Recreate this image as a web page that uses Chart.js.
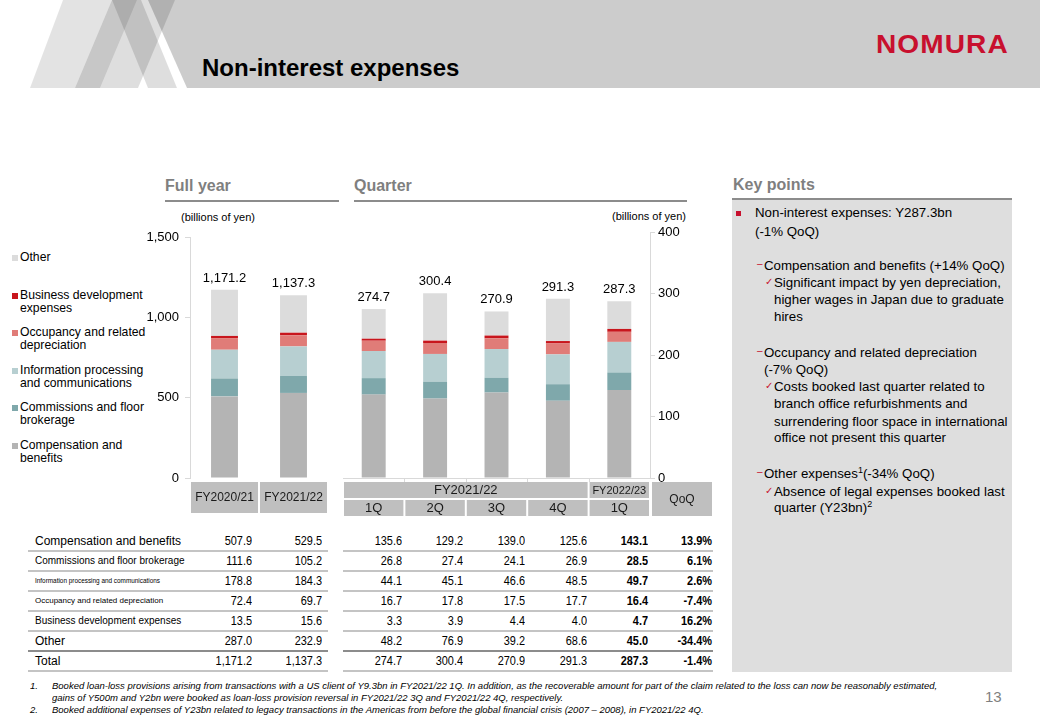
<!DOCTYPE html>
<html><head><meta charset="utf-8">
<script src="https://cdn.jsdelivr.net/npm/chart.js@4.4.0/dist/chart.umd.min.js"></script>
<style>
body{margin:0;width:1040px;height:720px;position:relative;overflow:hidden;background:#fff;font-family:"Liberation Sans",Arial,sans-serif;color:#000}
.a{position:absolute;white-space:nowrap}
.sec{font-weight:bold;font-size:16px;line-height:20px;color:#7f7f7f}
.ul{height:2px;background:#8c8c8c}
.kp{font-size:13.3px;line-height:18px}
.dash{color:#c8102e;font-size:10px}
.chk{color:#c8102e;font-size:10px;font-family:"DejaVu Sans",sans-serif}
.fn{font-style:italic;font-size:9.6px;line-height:11px;color:#000;transform:scaleX(0.99);transform-origin:left center}
.lg{font-size:12.2px;line-height:13.5px}
.sq{width:6px;height:6px}
.tv{font-size:13px;line-height:16px;text-align:right;transform:scaleX(0.84);transform-origin:right center}
</style></head><body>

<svg class="a" style="left:0;top:0" width="1040" height="89">
 <polygon points="30,88 63,0 112,0 75,88" fill="#000" fill-opacity="0.11"/>
 <polygon points="75,88 112,0 137,0 100,88" fill="#000" fill-opacity="0.22"/>
 <polygon points="100,88 137,0 175,0 138,88" fill="#000" fill-opacity="0.13"/>
 <polygon points="112,0 141,0 177,88 148,88" fill="#000" fill-opacity="0.13"/>
 <polygon points="148,0 1040,0 1040,88 187,88" fill="#000" fill-opacity="0.2"/>
</svg>
<div class="a" style="left:202px;top:54px;font-weight:bold;font-size:24px;line-height:28px">Non-interest expenses</div>
<div class="a" style="left:876px;top:29px;font-weight:bold;font-size:26px;line-height:30px;color:#c8102e;letter-spacing:1px;transform:scaleX(1.08);transform-origin:left">NOMURA</div>

<div class="a sec" style="left:165px;top:176px">Full year</div>
<div class="a ul" style="left:165px;top:200px;width:174px"></div>
<div class="a sec" style="left:354px;top:176px">Quarter</div>
<div class="a ul" style="left:354px;top:200px;width:333px"></div>
<div class="a sec" style="left:733px;top:175px">Key points</div>
<div class="a ul" style="left:732px;top:198px;width:280px"></div>
<div class="a" style="left:732px;top:200px;width:280px;height:472px;background:#dedede"></div>

<div class="a" style="left:181px;top:210px;font-size:11px;line-height:14px">(billions of yen)</div>
<div class="a" style="left:612px;top:209px;font-size:11px;line-height:14px">(billions of yen)</div>

<div id="legend"></div>

<canvas id="fy" class="a" style="left:130px;top:215px" width="205" height="305"></canvas>
<canvas id="qt" class="a" style="left:340px;top:215px" width="375" height="305"></canvas>

<div id="table"></div>

<div class="a" style="left:736px;top:211px;width:5px;height:5px;background:#c8102e"></div>
<div class="a kp" style="left:755px;top:204px">Non-interest expenses: Y287.3bn</div>
<div class="a kp" style="left:755px;top:223px">(-1% QoQ)</div>
<div class="a dash" style="left:757px;top:258px">–</div>
<div class="a kp" style="left:764px;top:257px">Compensation and benefits (+14% QoQ)</div>
<div class="a chk" style="left:765px;top:276px">✓</div>
<div class="a kp" style="left:774px;top:274px">Significant impact by yen depreciation,</div>
<div class="a kp" style="left:774px;top:291px">higher wages in Japan due to graduate</div>
<div class="a kp" style="left:774px;top:308px">hires</div>
<div class="a dash" style="left:757px;top:345px">–</div>
<div class="a kp" style="left:764px;top:344px">Occupancy and related depreciation</div>
<div class="a kp" style="left:764px;top:361px">(-7% QoQ)</div>
<div class="a chk" style="left:765px;top:380px">✓</div>
<div class="a kp" style="left:774px;top:378px">Costs booked last quarter related to</div>
<div class="a kp" style="left:774px;top:395px">branch office refurbishments and</div>
<div class="a kp" style="left:774px;top:413px">surrendering floor space in international</div>
<div class="a kp" style="left:774px;top:429px">office not present this quarter</div>
<div class="a dash" style="left:757px;top:466px">–</div>
<div class="a kp" style="left:764px;top:465px">Other expenses<sup style="font-size:9px;line-height:0">1</sup>(-34% QoQ)</div>
<div class="a chk" style="left:765px;top:485px">✓</div>
<div class="a kp" style="left:774px;top:483px">Absence of legal expenses booked last</div>
<div class="a kp" style="left:774px;top:499px">quarter (Y23bn)<sup style="font-size:9px;line-height:0">2</sup></div>

<div class="a fn" style="left:30px;top:680px">1.</div>
<div class="a fn" style="left:52px;top:680px">Booked loan-loss provisions arising from transactions with a US client of Y9.3bn in FY2021/22 1Q. In addition, as the recoverable amount for part of the claim related to the loss can now be reasonably estimated,</div>
<div class="a fn" style="left:52px;top:692px">gains of Y500m and Y2bn were booked as loan-loss provision reversal in FY2021/22 3Q and FY2021/22 4Q, respectively.</div>
<div class="a fn" style="left:30px;top:704px">2.</div>
<div class="a fn" style="left:52px;top:704px">Booked additional expenses of Y23bn related to legacy transactions in the Americas from before the global financial crisis (2007 – 2008), in FY2021/22 4Q.</div>
<div class="a" style="left:985px;top:688px;font-size:15px;line-height:18px;color:#7f7f7f">13</div>

<script>
// ---------- data ----------
const fyLabels = ['FY2020/21', 'FY2021/22'];
const qLabels = ['1Q', '2Q', '3Q', '4Q', '1Q'];
const qGroups = [{label: 'FY2021/22', from: 0, to: 3}, {label: 'FY2022/23', from: 4, to: 4}];
const seriesNames = ['Compensation and benefits', 'Commissions and floor brokerage', 'Information processing and communications', 'Occupancy and related depreciation', 'Business development expenses', 'Other'];
const legendLabels = ['Compensation and<br>benefits', 'Commissions and floor<br>brokerage', 'Information processing<br>and communications', 'Occupancy and related<br>depreciation', 'Business development<br>expenses', 'Other'];
const seriesColors = ['#b4b4b4', '#7fa8ab', '#b7cfd1', '#e07c78', '#c8161d', '#dcdcdc'];

const fyComp  = [507.9, 529.5];
const fyComm  = [111.6, 105.2];
const fyInfo  = [178.8, 184.3];
const fyOcc   = [72.4, 69.7];
const fyBiz   = [13.5, 15.6];
const fyOther = [287.0, 232.9];
const fyTotal = [1171.2, 1137.3];

const qComp  = [135.6, 129.2, 139.0, 125.6, 143.1];
const qComm  = [26.8, 27.4, 24.1, 26.9, 28.5];
const qInfo  = [44.1, 45.1, 46.6, 48.5, 49.7];
const qOcc   = [16.7, 17.8, 17.5, 17.7, 16.4];
const qBiz   = [3.3, 3.9, 4.4, 4.0, 4.7];
const qOther = [48.2, 76.9, 39.2, 68.6, 45.0];
const qTotal = [274.7, 300.4, 270.9, 291.3, 287.3];

const qoq = ['13.9%', '6.1%', '2.6%', '-7.4%', '16.2%', '-34.4%', '-1.4%'];

const fyTicks = [0, 500, 1000, 1500];
const qTicks = [0, 100, 200, 300, 400];

const fySeries = [fyComp, fyComm, fyInfo, fyOcc, fyBiz, fyOther];
const qSeries = [qComp, qComm, qInfo, qOcc, qBiz, qOther];

// ---------- helpers ----------
const fmt = v => v.toLocaleString('en-US', {minimumFractionDigits: 1, maximumFractionDigits: 1});
const FONT = '"Liberation Sans", Arial, sans-serif';

// legend
(function () {
  const tops = [438.5, 400.5, 363.5, 325.5, 288.5, 250.5];
  let h = '';
  for (let i = seriesNames.length - 1; i >= 0; i--) {
    h += `<div class="a sq" style="left:12px;top:${tops[i] + 4}px;background:${seriesColors[i]}"></div>`;
    h += `<div class="a lg" style="left:20px;top:${tops[i]}px">${legendLabels[i]}</div>`;
  }
  document.getElementById('legend').innerHTML = h;
})();

// table
(function () {
  const rowC = [541, 561, 581, 601, 621, 641, 661];
  const labelSize = [12, 10, 6.4, 8, 10, 12, 12];
  const colR = [252, 322, 402, 463, 525, 587, 648, 712];
  let h = '';
  const rows = seriesNames.map((n, i) => ({name: n, fy: fySeries[i], q: qSeries[i], qq: qoq[i]}));
  rows.push({name: 'Total', fy: fyTotal, q: qTotal, qq: qoq[6]});
  rows.forEach((r, i) => {
    const c = rowC[i];
    h += `<div class="a" style="left:35px;top:${c - 8}px;font-size:${labelSize[i]}px;line-height:16px">${r.name}</div>`;
    const vals = [...r.fy, ...r.q].map(fmt).concat([r.qq]);
    vals.forEach((v, j) => {
      const bold = j >= 6 ? 'font-weight:bold;' : '';
      h += `<div class="a tv" style="left:${colR[j] - 60}px;width:60px;top:${c - 8}px;${bold}">${v}</div>`;
    });
    const lc = i === 5 ? '#8c8c8c' : '#c4c4c4';
    h += `<div class="a" style="left:28px;top:${c + 9}px;width:300px;height:2px;background:${lc}"></div>`;
    h += `<div class="a" style="left:343px;top:${c + 9}px;width:370px;height:2px;background:${lc}"></div>`;
  });
  document.getElementById('table').innerHTML = h;
})();

// ---------- plugins ----------
const totalsPlugin = {
  id: 'totals',
  afterDatasetsDraw(chart, args, opts) {
    const ctx = chart.ctx, ys = chart.scales.y;
    const meta = chart.getDatasetMeta(chart.data.datasets.length - 1);
    ctx.save();
    ctx.font = '13px ' + FONT;
    ctx.fillStyle = '#000';
    ctx.textAlign = 'center';
    ctx.textBaseline = 'bottom';
    opts.totals.forEach((t, i) => {
      ctx.fillText(fmt(t), meta.data[i].x, ys.getPixelForValue(t) - 5);
    });
    ctx.restore();
  }
};

const boxPlugin = {
  id: 'boxes',
  afterDraw(chart, args, opts) {
    const ctx = chart.ctx, ys = chart.scales.y;
    const y0 = ys.getPixelForValue(0);
    const n = chart.data.labels.length;
    const w = (chart.chartArea.right - chart.chartArea.left) / n;
    const edge = i => chart.chartArea.left + w * i;
    ctx.save();
    if (opts.baseline) {
      ctx.strokeStyle = '#d9d9d9'; ctx.lineWidth = 1;
      ctx.beginPath(); ctx.moveTo(chart.chartArea.left, y0 + 0.5); ctx.lineTo(chart.chartArea.right, y0 + 0.5);
      for (let i = 1; i < n; i++) { const x = Math.round(edge(i)) + 0.5; ctx.moveTo(x, y0); ctx.lineTo(x, y0 + 4); }
      ctx.stroke();
    }
    const box = (l, r, t, h, text, size) => {
      ctx.fillStyle = '#bfbfbf';
      ctx.fillRect(l, t, r - l, h);
      ctx.fillStyle = '#1a1a1a';
      ctx.font = size + 'px ' + FONT;
      ctx.textAlign = 'center'; ctx.textBaseline = 'middle';
      ctx.fillText(text, (l + r) / 2, t + h / 2 + 0.5);
    };
    opts.rows.forEach(row => {
      row.cells.forEach(c => {
        const sz = c.size || row.size;
        box(edge(c.from) + 1, edge(c.to + 1) - 1, y0 + row.top, row.h, c.label, sz);
      });
    });
    if (opts.extra) {
      const e = opts.extra;
      box(chart.chartArea.right + 2, chart.chartArea.right + 2 + e.w, y0 + e.top, e.h, e.label, e.size);
    }
    ctx.restore();
  }
};

function datasets(seriesArr) {
  return seriesArr.map((d, i) => ({
    label: seriesNames[i], data: d, backgroundColor: seriesColors[i],
    borderWidth: 0, barPercentage: 0.39, categoryPercentage: 1
  }));
}

const tickFont = {family: FONT, size: 13};

new Chart(document.getElementById('fy'), {
  type: 'bar',
  data: {labels: fyLabels, datasets: datasets(fySeries)},
  options: {
    responsive: false, animation: false,
    layout: {padding: {top: 22, right: 7, bottom: 42, left: 0}},
    plugins: {
      legend: {display: false}, tooltip: {enabled: false},
      totals: {totals: fyTotal},
      boxes: {rows: [{top: 4, h: 31, size: 12, cells: fyLabels.map((l, i) => ({label: l, from: i, to: i}))}]}
    },
    scales: {
      x: {stacked: true, display: false},
      y: {
        stacked: true, min: 0, max: 1500,
        afterBuildTicks: s => { s.ticks = fyTicks.map(v => ({value: v})); },
        ticks: {font: tickFont, color: '#000', padding: 6},
        grid: {drawOnChartArea: false, tickLength: 5, color: '#d9d9d9'},
        border: {color: '#d9d9d9'},
        afterFit: s => { s.width = 60; }
      }
    }
  },
  plugins: [totalsPlugin, boxPlugin]
});

new Chart(document.getElementById('qt'), {
  type: 'bar',
  data: {labels: qLabels, datasets: datasets(qSeries)},
  options: {
    responsive: false, animation: false,
    layout: {padding: {top: 17, right: 15, bottom: 42, left: 3}},
    plugins: {
      legend: {display: false}, tooltip: {enabled: false},
      totals: {totals: qTotal},
      boxes: {
        baseline: true,
        rows: [
          {top: 4, h: 16, size: 13, cells: qGroups.map((g, k) => ({label: g.label, from: g.from, to: g.to, size: k ? 11 : 13}))},
          {top: 22, h: 16, size: 13, cells: qLabels.map((l, i) => ({label: l, from: i, to: i}))}
        ],
        extra: {label: 'QoQ', top: 4, h: 34, w: 60, size: 12}
      }
    },
    scales: {
      x: {stacked: true, display: false},
      y: {
        stacked: true, position: 'right', min: 0, max: 400,
        afterBuildTicks: s => { s.ticks = qTicks.map(v => ({value: v})); },
        ticks: {font: tickFont, color: '#000', padding: 3},
        grid: {drawOnChartArea: false, tickLength: 5, color: '#d9d9d9'},
        border: {color: '#d9d9d9'},
        afterFit: s => { s.width = 50; }
      }
    }
  },
  plugins: [totalsPlugin, boxPlugin]
});
</script>
</body></html>
